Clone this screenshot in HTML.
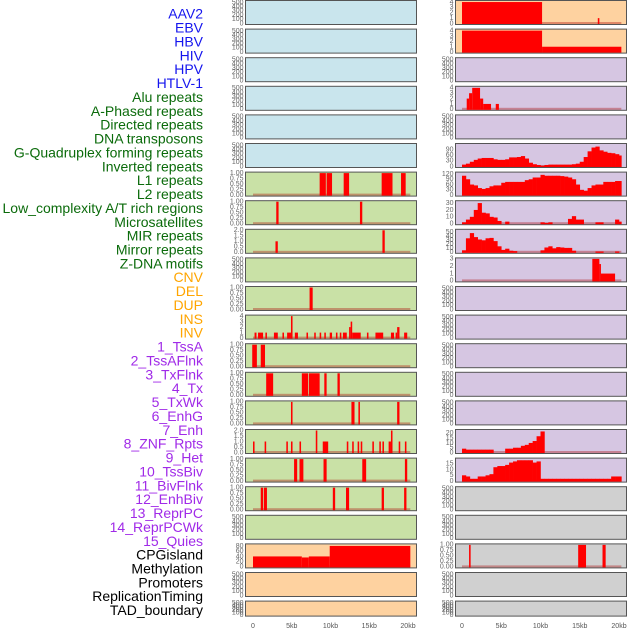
<!DOCTYPE html>
<html><head><meta charset="utf-8">
<style>
body{margin:0;background:#fff;}
svg{display:block;font-family:"Liberation Sans",sans-serif;}
</style></head>
<body>
<svg id="chart" width="630" height="630" viewBox="0 0 630 630" xmlns="http://www.w3.org/2000/svg"></svg>
<script>
// ---- category labels ----
const labelNames = ["AAV2","EBV","HBV","HIV","HPV","HTLV-1","Alu repeats","A-Phased repeats","Directed repeats","DNA transposons","G-Quadruplex forming repeats","Inverted repeats","L1 repeats","L2 repeats","Low_complexity A/T rich regions","Microsatellites","MIR repeats","Mirror repeats","Z-DNA motifs","CNV","DEL","DUP","INS","INV","1_TssA","2_TssAFlnk","3_TxFlnk","4_Tx","5_TxWk","6_EnhG","7_Enh","8_ZNF_Rpts","9_Het","10_TssBiv","11_BivFlnk","12_EnhBiv","13_ReprPC","14_ReprPCWk","15_Quies","CPGisland","Methylation","Promoters","ReplicationTiming","TAD_boundary"];
const labelGroups = [6,13,5,15,5];
const groupColors = ["#1515ee","#0b6b0b","#ffa500","#a02ae8","#000000"];
const xTickLabels = ["0","5kb","10kb","15kb","20kb"];
const xTickValues = [0,5,10,15,20];
const emptyTicks = [0,100,200,300,400,500];

// ---- panel backgrounds ----
const leftBg = ["b","b","b","b","b","b","g","g","g","g","g","g","g","g","g","g","g","g","g","o","o","o"];
const rightBg = ["o","o","p","p","p","p","p","p","p","p","p","p","p","p","p","p","p","y","y","y","y","y"];

// ---- interval data: [startKb, endKb, value] ----
const left6 = [[8.6,9.4,1],[9.5,10.2,1],[11.7,12.4,1],[16.6,18.0,1],[19.1,19.7,1]];
const left7 = [[3.0,3.3,1],[13.8,14.1,1]];
const left8 = [[2.9,3.2,1],[16.7,17.0,2]];
const left10 = [[7.3,7.7,1]];
const left11 = [[0.2,0.45,1],[0.65,1.3,1],[1.6,1.8,1],[2.7,3.2,1],[3.8,4.0,1],[4.4,4.9,1],[4.9,5.1,4],[5.4,5.8,1],[6.9,7.1,1],[7.9,8.1,1],[8.6,8.8,1],[9.2,9.4,1],[9.9,10.2,1],[10.7,10.9,1],[11.2,11.4,1],[11.6,12.1,1],[12.4,12.6,2],[12.6,12.8,3],[12.8,13.9,1],[14.7,14.9,1],[15.8,16.8,1],[17.8,18.2,1],[18.4,18.6,1],[18.6,18.9,2],[19.5,19.9,1]];
const left12 = [[-0.1,0.5,1],[1.0,1.55,1]];
const left13 = [[1.7,2.6,1],[6.3,7.1,1],[7.2,8.6,1],[9.2,9.5,1],[10.9,11.2,1]];
const left14 = [[4.9,5.1,1],[12.7,13.1,1],[13.6,13.8,1],[18.6,18.9,1]];
const left15 = [[0,0.2,1],[1.5,1.7,1],[4.3,4.5,1],[4.9,5.1,1],[6.0,6.2,1],[8.1,8.3,2],[9.0,9.7,1],[12.1,12.3,1],[12.8,13.0,1],[13.5,13.7,1],[13.9,14.1,1],[15.4,15.6,1],[16.3,16.5,1],[16.7,16.9,1],[17.5,17.8,1],[17.8,18.0,2],[18.8,19.0,1],[19.6,19.8,1]];
const left16 = [[5.3,5.7,1],[6.0,6.5,1],[9.1,9.5,1],[14.1,14.6,1],[19.6,19.9,1]];
const left17 = [[1.0,1.3,1],[1.4,1.8,1],[10.3,10.6,1],[12.0,12.4,1],[16.6,16.9,1],[19.5,19.8,1]];
const left19 = [[0,6.3,40],[6.3,7.2,36],[7.2,9.9,40],[9.9,20.3,80]];

const right0 = [[0,10.2,4],[17.3,17.5,1]];
const right1 = [[0,10.2,4],[10.2,20.3,1]];
const right3 = [[0.6,0.9,2],[0.9,1.3,3],[1.3,2.3,4],[2.3,2.7,2],[2.7,3.7,1],[4.3,4.7,1]];
const right9 = [[16.6,17.5,3],[17.5,17.7,2.3],[17.7,19.5,1]];
const right19 = [[0.9,1.1,1],[14.8,15.8,1],[17.9,18.3,1]];

// ---- binned data (0.5 kb bins starting at 0) ----
const right5 = [10,15,25,35,42,45,45,45,38,35,35,38,48,48,50,55,42,20,12,8,4,8,10,10,10,10,10,10,12,15,25,50,80,100,105,85,78,72,70,65,58];
const right6 = [110,90,60,55,40,35,40,50,55,55,70,75,75,75,75,75,85,90,100,100,115,110,110,110,110,108,105,100,90,60,30,25,40,55,60,60,75,75,75,80,80];
const right7 = [2,6,10,20,30,16,15,10,9,4,0,3,0,0,0,0,0,0,0,0,2,1,2,0,0,0,0,7,11,6,6,0,0,0,2,2,0,0,0,6,3];
const right8 = [5,35,48,38,32,30,35,36,28,15,6,9,4,3,0,0,0,0,0,0,5,12,15,10,13,12,11,11,4,0,0,0,0,0,2,2,0,0,0,2,0];
const right15 = [4,3,3,3,3,3,3,3,0,0,0,4,4,5,5,7,8,10,12,17,22,0,0,0,0,0,0,0,0,0,0,0,0,0,0,0,0,0,0,0,0];
const right16 = [5,4,2,2,4,4,5,6,12,13,13,14,16,17,18,18,18,18,16,17,2,2,2,2,2,2,2,2,2,2,2,2,2,2,2,2,2,2,4,4,4];

// ---- panel specs: [data, type, ymax, ticks] ----
const binTicks = [0,0.25,0.5,0.75,1];
const leftSpec = {
 6:[left6,"iv",1,binTicks],7:[left7,"iv",1,binTicks],8:[left8,"iv",2,[0,0.5,1,1.5,2]],
 10:[left10,"iv",1,binTicks],11:[left11,"iv",4,[0,1,2,3,4]],12:[left12,"iv",1,binTicks],
 13:[left13,"iv",1,binTicks],14:[left14,"iv",1,binTicks],15:[left15,"iv",2,[0,0.5,1,1.5,2]],
 16:[left16,"iv",1,binTicks],17:[left17,"iv",1,binTicks],19:[left19,"iv",84,[0,20,40,60,80]]
};
const rightSpec = {
 0:[right0,"iv",4.1,[0,1,2,3,4]],1:[right1,"iv",4.1,[0,1,2,3,4]],3:[right3,"iv",4.1,[0,1,2,3,4]],
 5:[right5,"bin",116,[0,30,60,90]],6:[right6,"bin",125,[0,30,60,90,120]],
 7:[right7,"bin",32,[0,10,20,30]],8:[right8,"bin",55,[0,10,20,30,40,50]],
 9:[right9,"iv",3,[0,1,2,3]],15:[right15,"bin",23,[0,5,10,15,20]],
 16:[right16,"bin",19,[0,5,10,15]],19:[right19,"iv",1,binTicks]
};
const bgColors = {b:"#c9e5ed",g:"#c9e1a6",o:"#fed2a0",p:"#d6c6e2",y:"#d0d0d0"};

const NS="http://www.w3.org/2000/svg";
const svg=document.getElementById("chart");
function mk(tag,attrs,parent){const e=document.createElementNS(NS,tag);for(const k in attrs)e.setAttribute(k,attrs[k]);(parent||svg).appendChild(e);return e;}

let li=0;
labelGroups.forEach((n,g)=>{
 for(let j=0;j<n;j++){
  const t=mk("text",{x:203,y:15+li*13.87,"text-anchor":"end","dominant-baseline":"middle","font-size":"14",fill:groupColors[g]});
  t.textContent=labelNames[li];
  
  
  li++;
 }
});

function fmt(t,ticks){
 if(ticks===binTicks) return t.toFixed(2);
 if(ticks.some(v=>v%1!==0)) return t.toFixed(1);
 return String(t);
}

function drawColumn(px0,x0,scale,bgs,spec,side){
 const pw=171;
 bgs.forEach((bg,k)=>{
  const top=0.5+k*28.6, h=(k===21)?15:24, bot=top+h;
  const g=mk("g",{});
  
  
  mk("rect",{x:px0,y:top,width:pw,height:h,fill:bgColors[bg],stroke:"#555","stroke-width":1},g);
  const s=spec[k];
  const xs=kb=>x0+kb*scale;
  if(!s){
   emptyTicks.forEach((t,i)=>{
    const y=bot-1-(t/500)*(h-3);
    const tx=mk("text",{x:px0-2,y:y,"text-anchor":"end","dominant-baseline":"middle","font-size":"7",fill:"#666"},g);
    tx.textContent=t;
    
    
   });
   return;
  }
  const [data,type,ymax,ticks]=s;
  const ys=v=>bot-1-(v/ymax)*(h-2);
  ticks.forEach(t=>{
   const tx=mk("text",{x:px0-2,y:ys(t),"text-anchor":"end","dominant-baseline":"middle","font-size":"7",fill:"#666"},g);
   tx.textContent=fmt(t,ticks);
   
   
  });
  mk("rect",{x:xs(0),y:bot-2.5,width:xs(20.3)-xs(0),height:2,fill:"rgba(170,0,0,0.35)"},g);
  if(type==="iv"){
   data.forEach(d=>{
    const r=mk("rect",{x:xs(d[0]),y:ys(d[2]),width:Math.max(1.5,xs(d[1])-xs(d[0])),height:bot-0.5-ys(d[2]),fill:"#ff0000"},g);
    
    
   });
  } else {
   data.forEach((v,i)=>{
    if(v<=0)return;
    const a=i*0.5,b=Math.min(20.3,a+0.5);
    const r=mk("rect",{x:xs(a),y:ys(v),width:xs(b)-xs(a)+0.3,height:bot-0.5-ys(v),fill:"#ff0000"},g);
    
    
   });
  }
 });
 xTickValues.forEach((v,i)=>{
  const t=mk("text",{x:x0+v*scale,y:628,"text-anchor":"middle","font-size":"7",fill:"#555"});
  t.textContent=xTickLabels[i];
  
  
 });
}
drawColumn(245.5,253,7.75,leftBg,leftSpec,"left");
drawColumn(455.5,462,7.85,rightBg,rightSpec,"right");
</script>
</body></html>
